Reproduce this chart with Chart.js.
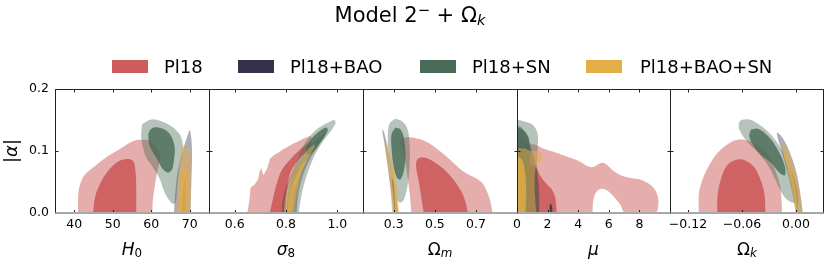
<!DOCTYPE html>
<html>
<head>
<meta charset="utf-8">
<script src="https://cdn.jsdelivr.net/npm/chart.js@4.4.0/dist/chart.umd.min.js"></script>
<style>
  body { margin: 0; background: #fff; }
  #wrap { position: relative; width: 830px; height: 263px; overflow: hidden; font-family: "DejaVu Sans", sans-serif; color: #000; }
  #wrap canvas { position: absolute; left: 0; top: 0; }
  .t { position: absolute; white-space: nowrap; line-height: 1; }
  .sb { font-size: 0.7em; position: relative; top: 0.22em; }
  .sp { font-size: 0.7em; position: relative; top: -0.45em; }
  .ax { top: 240.6px; font-size: 17px; transform: translateX(-50%); }
  .lg { top: 57.5px; font-size: 18px; }
  .patch { position: absolute; top: 59.5px; width: 36px; height: 13px; }
</style>
</head>
<body>
<div id="wrap">
  <canvas id="c0" width="830" height="263"></canvas>
  <canvas id="c1" width="830" height="263"></canvas>
  <canvas id="c2" width="830" height="263"></canvas>
  <canvas id="c3" width="830" height="263"></canvas>
  <canvas id="c4" width="830" height="263"></canvas>

  <div class="t" style="left:410px;top:4.9px;font-size:21px;transform:translateX(-50%)">Model 2<span class="sp">−</span> + Ω<span class="sb"><i>k</i></span></div>

  <div class="patch" style="left:112px;background:rgb(205,92,92)"></div>
  <div class="t lg" style="left:164px">Pl18</div>
  <div class="patch" style="left:238px;background:rgb(52,49,76)"></div>
  <div class="t lg" style="left:290px">Pl18+BAO</div>
  <div class="patch" style="left:420px;background:rgb(72,106,86)"></div>
  <div class="t lg" style="left:472px">Pl18+SN</div>
  <div class="patch" style="left:586px;background:rgb(228,174,70)"></div>
  <div class="t lg" style="left:640px">Pl18+BAO+SN</div>

  <div class="t" style="left:11px;top:151px;font-size:18px;transform:translate(-50%,-50%) rotate(-90deg)">|<i>α</i>|</div>
  <div class="t ax" style="left:132px"><i>H</i><span class="sb">0</span></div>
  <div class="t ax" style="left:286px"><i>σ</i><span class="sb">8</span></div>
  <div class="t ax" style="left:440px">Ω<span class="sb"><i>m</i></span></div>
  <div class="t ax" style="left:593.5px"><i>μ</i></div>
  <div class="t ax" style="left:747px">Ω<span class="sb"><i>k</i></span></div>
</div>
<script>
// shared y axis (|alpha|)
const yRange = [0, 0.2];
const yTicks = [0, 0.1, 0.2];
const yTickLabels = ['0.0', '0.1', '0.2'];

// H0 panel
const h0Range = [35, 75];
const h0Ticks = [40, 50, 60, 70];
const h0TickLabels = ['40', '50', '60', '70'];
const h0Pl18Outer = [[41.0, 0], [41.0, 0.025], [41.5, 0.046], [42.8, 0.062], [45.4, 0.076], [48.8, 0.092], [52.3, 0.105], [55.3, 0.116], [57.4, 0.118], [60.0, 0.115], [61.8, 0.102], [62.2, 0.085], [61.5, 0.065], [60.9, 0.042], [60.4, 0.02], [60.3, 0]];
const h0Pl18Inner = [[44.9, 0], [45.4, 0.025], [46.6, 0.046], [48.8, 0.068], [51.4, 0.083], [53.6, 0.087], [55.3, 0.084], [55.9, 0.068], [56.1, 0.041], [56.1, 0]];
const h0BaoOuter = [[65.9, 0], [66.2, 0.03], [66.9, 0.068], [68.2, 0.1], [69.4, 0.124], [70.0, 0.133], [70.4, 0.121], [70.6, 0.094], [70.4, 0.051], [70.2, 0]];
const h0BaoInner = [[68.0, 0], [68.2, 0.03], [68.6, 0.055], [68.9, 0.05], [68.9, 0.02], [68.8, 0]];
const h0SnOuter = [[57.6, 0.143], [60.0, 0.151], [62.6, 0.148], [65.2, 0.140], [67.4, 0.127], [68.2, 0.110], [68.1, 0.094], [67.4, 0.073], [66.8, 0.046], [66.6, 0.025], [66.3, 0.016], [65.5, 0.015], [64.5, 0.022], [63.3, 0.036], [62.2, 0.055], [60.5, 0.073], [58.7, 0.089], [57.9, 0.105], [57.4, 0.121], [57.6, 0.143]];
const h0SnInner = [[59.2, 0.127], [60.0, 0.136], [61.8, 0.138], [63.9, 0.133], [65.4, 0.121], [66.1, 0.105], [65.9, 0.086], [65.4, 0.070], [64.4, 0.065], [63.1, 0.070], [61.8, 0.084], [60.5, 0.097], [59.5, 0.110], [59.2, 0.127]];
const h0BaoSnOuter = [[66.5, 0], [66.8, 0.041], [67.4, 0.084], [67.8, 0.102], [68.7, 0.110], [70.0, 0.100], [70.4, 0.062], [70.2, 0]];
const h0BaoSnInner = [[67.4, 0], [67.6, 0.041], [68.2, 0.073], [69.1, 0.070], [69.3, 0.041], [69.2, 0]];

// sigma8 panel
const s8Range = [0.5, 1.1];
const s8Ticks = [0.6, 0.8, 1.0];
const s8TickLabels = ['0.6', '0.8', '1.0'];
const s8Pl18Outer = [[0.6495, 0], [0.657, 0.019], [0.6625, 0.041], [0.678, 0.046], [0.691, 0.054], [0.698, 0.068], [0.704, 0.072], [0.712, 0.061], [0.728, 0.073], [0.738, 0.088], [0.756, 0.094], [0.782, 0.101], [0.821, 0.110], [0.861, 0.1185], [0.893, 0.124], [0.902, 0.121], [0.874, 0.0997], [0.841, 0.078], [0.815, 0.0515], [0.798, 0.025], [0.793, 0]];
const s8Pl18Inner = [[0.737, 0], [0.75, 0.025], [0.763, 0.046], [0.782, 0.068], [0.815, 0.086], [0.854, 0.102], [0.887, 0.113], [0.9, 0.116], [0.887, 0.102], [0.848, 0.086], [0.815, 0.062], [0.802, 0.030], [0.798, 0]];
const s8BaoOuter = [[0.785, 0], [0.786, 0.017], [0.8, 0.041], [0.828, 0.068], [0.867, 0.094], [0.913, 0.116], [0.945, 0.127], [0.955, 0.128], [0.939, 0.116], [0.9, 0.092], [0.867, 0.062], [0.848, 0.030], [0.841, 0]];
const s8BaoInner = [[0.81, 0], [0.816, 0.025], [0.83, 0.045], [0.835, 0.04], [0.825, 0.02], [0.818, 0]];
const s8SnOuter = [[0.802, 0], [0.808, 0.030], [0.821, 0.057], [0.837, 0.078], [0.86, 0.102], [0.887, 0.121], [0.926, 0.137], [0.965, 0.146], [0.988, 0.150], [0.993, 0.145], [0.978, 0.134], [0.945, 0.116], [0.913, 0.094], [0.887, 0.068], [0.867, 0.041], [0.854, 0.014], [0.85, 0]];
const s8SnInner = [[0.876, 0.104], [0.9, 0.12], [0.93, 0.132], [0.958, 0.138], [0.962, 0.132], [0.935, 0.115], [0.905, 0.098], [0.885, 0.094], [0.876, 0.104]];
const s8BaoSnOuter = [[0.79, 0], [0.796, 0.025], [0.813, 0.052], [0.841, 0.078], [0.874, 0.097], [0.906, 0.110], [0.914, 0.108], [0.893, 0.094], [0.867, 0.073], [0.85, 0.046], [0.837, 0.019], [0.832, 0]];
const s8BaoSnInner = [[0.806, 0], [0.815, 0.030], [0.834, 0.054], [0.867, 0.081], [0.88, 0.084], [0.861, 0.068], [0.837, 0.041], [0.821, 0]];

// Omega_m panel
const omRange = [0.15, 0.9];
const omTicks = [0.3, 0.5, 0.7];
const omTickLabels = ['0.3', '0.5', '0.7'];
const omPl18Outer = [[0.386, 0], [0.378, 0.030], [0.365, 0.062], [0.349, 0.094], [0.332, 0.113], [0.34, 0.120], [0.373, 0.122], [0.413, 0.120], [0.47, 0.113], [0.535, 0.097], [0.6, 0.078], [0.648, 0.065], [0.689, 0.058], [0.729, 0.049], [0.753, 0.035], [0.77, 0.019], [0.781, 0]];
const omPl18Inner = [[0.446, 0], [0.434, 0.025], [0.421, 0.052], [0.409, 0.073], [0.413, 0.086], [0.438, 0.090], [0.478, 0.086], [0.535, 0.073], [0.583, 0.057], [0.624, 0.038], [0.648, 0.019], [0.661, 0]];
const omBaoOuter = [[0.297, 0], [0.288, 0.03], [0.273, 0.068], [0.258, 0.105], [0.243, 0.135], [0.252, 0.131], [0.27, 0.105], [0.292, 0.068], [0.312, 0.03], [0.322, 0]];
const omBaoInner = [[0.303, 0], [0.298, 0.03], [0.29, 0.055], [0.296, 0.055], [0.305, 0.03], [0.309, 0]];
const omSnOuter = [[0.305, 0.152], [0.34, 0.148], [0.365, 0.137], [0.376, 0.116], [0.378, 0.084], [0.37, 0.051], [0.353, 0.025], [0.337, 0.017], [0.321, 0.019], [0.308, 0.035], [0.292, 0.062], [0.276, 0.094], [0.271, 0.127], [0.279, 0.144], [0.305, 0.152]];
const omSnInner = [[0.308, 0.138], [0.332, 0.135], [0.349, 0.121], [0.357, 0.094], [0.349, 0.068], [0.332, 0.054], [0.316, 0.057], [0.3, 0.073], [0.289, 0.105], [0.289, 0.127], [0.308, 0.138]];
const omBaoSnOuter = [[0.292, 0], [0.283, 0.04], [0.268, 0.08], [0.255, 0.11], [0.262, 0.116], [0.279, 0.1], [0.3, 0.073], [0.316, 0.041], [0.326, 0]];
const omBaoSnInner = [[0.305, 0], [0.3, 0.041], [0.284, 0.073], [0.292, 0.073], [0.308, 0.041], [0.314, 0]];

// mu panel
const muRange = [0, 10];
const muTicks = [0, 2, 4, 6, 8];
const muTickLabels = ['0', '2', '4', '6', '8'];
const muPl18Outer = [[0, 0], [0, 0.112], [0.5, 0.113], [1.2, 0.110], [1.63, 0.105], [2.28, 0.0997], [3.15, 0.092], [4.02, 0.084], [4.78, 0.074], [5.1, 0.0756], [5.54, 0.081], [5.87, 0.078], [6.3, 0.068], [6.85, 0.060], [7.5, 0.056], [8.04, 0.054], [8.48, 0.049], [8.91, 0.041], [9.2, 0.027], [9.24, 0.014], [9.13, 0.002], [8.8, 0], [7.07, 0], [6.74, 0.014], [6.3, 0.027], [5.87, 0.0365], [5.5, 0.039], [5.22, 0.035], [5.0, 0.022], [4.93, 0]];
const muPl18Inner = [[0, 0], [0, 0.08], [0.6, 0.08], [1.2, 0.0756], [1.52, 0.060], [1.96, 0.046], [2.28, 0.038], [2.5, 0.025], [2.6, 0]];
const muBaoOuter = [[0, 0], [0, 0.14], [0.3, 0.138], [0.7, 0.12], [1.1, 0.09], [1.35, 0.06], [1.45, 0.03], [1.45, 0]];
const muBaoInner = [[0.3, 0], [0.3, 0.05], [0.45, 0.07], [0.6, 0.045], [0.55, 0]];
const muBaoIsland = [[2.15, 0], [2.13, 0.01], [2.2, 0.015], [2.3, 0.01], [2.3, 0]];
const muSnOuter = [[0, 0], [0, 0.148], [0.54, 0.147], [0.98, 0.143], [1.24, 0.135], [1.37, 0.124], [1.35, 0.105], [1.3, 0.08], [1.4, 0.04], [1.45, 0]];
const muSnInner = [[0, 0], [0, 0.135], [0.4, 0.134], [0.75, 0.122], [0.85, 0.1], [0.8, 0.05], [0.7, 0]];
const muBaoSnOuter = [[0, 0], [0, 0.102], [0.5, 0.104], [0.9, 0.1], [1.3, 0.1], [1.65, 0.094], [1.6, 0.085], [1.25, 0.075], [1.15, 0.05], [1.2, 0.02], [1.25, 0]];
const muBaoSnInner = [[0, 0], [0, 0.09], [0.35, 0.085], [0.55, 0.06], [0.6, 0.03], [0.55, 0]];

// Omega_k panel
const okRange = [-0.14, 0.03];
const okTicks = [-0.12, -0.06, 0.0];
const okTickLabels = ['\u22120.12', '\u22120.06', '0.00'];
const okPl18Outer = [[-0.108, 0], [-0.108, 0.030], [-0.105, 0.049], [-0.098, 0.073], [-0.087, 0.097], [-0.074, 0.113], [-0.063, 0.1185], [-0.052, 0.116], [-0.041, 0.108], [-0.031, 0.094], [-0.024, 0.073], [-0.018, 0.046], [-0.016, 0.019], [-0.0155, 0]];
const okPl18Inner = [[-0.0875, 0], [-0.087, 0.030], [-0.083, 0.057], [-0.076, 0.078], [-0.066, 0.086], [-0.057, 0.085], [-0.046, 0.073], [-0.039, 0.052], [-0.035, 0.030], [-0.034, 0]];
const okBaoOuter = [[0, 0], [-0.0037, 0.030], [-0.01, 0.068], [-0.0159, 0.0997], [-0.0203, 0.121], [-0.021, 0.130], [-0.0148, 0.121], [-0.0074, 0.0997], [0, 0.068], [0.0048, 0.030], [0.0074, 0]];
const okBaoInner = [[0.0015, 0], [-0.002, 0.035], [-0.006, 0.06], [-0.004, 0.062], [0.0005, 0.035], [0.0025, 0]];
const okSnOuter = [[-0.061, 0.150], [-0.052, 0.1507], [-0.041, 0.1426], [-0.028, 0.1265], [-0.017, 0.105], [-0.0074, 0.078], [0, 0.046], [0.0026, 0.025], [0, 0.0166], [-0.0074, 0.019], [-0.0148, 0.030], [-0.024, 0.057], [-0.033, 0.081], [-0.044, 0.0997], [-0.055, 0.116], [-0.063, 0.1346], [-0.0635, 0.145], [-0.061, 0.150]];
const okSnInner = [[-0.05, 0.1346], [-0.0425, 0.136], [-0.031, 0.124], [-0.0203, 0.102], [-0.0129, 0.078], [-0.0122, 0.061], [-0.0185, 0.065], [-0.0277, 0.081], [-0.039, 0.094], [-0.048, 0.110], [-0.052, 0.124], [-0.05, 0.1346]];
const okBaoSnOuter = [[0, 0], [-0.0037, 0.030], [-0.0092, 0.068], [-0.0148, 0.0997], [-0.0166, 0.113], [-0.0122, 0.110], [-0.0055, 0.089], [0.0011, 0.057], [0.0055, 0.025], [0.0074, 0]];
const okBaoSnInner = [[0.0011, 0], [-0.0037, 0.041], [-0.0092, 0.073], [-0.0141, 0.097], [-0.0129, 0.0997], [-0.0074, 0.078], [-0.0011, 0.046], [0.0026, 0]];

const RED = '205,92,92';
const NAVY = '51,48,79';
const GREEN = '72,106,86';
const GOLD = '228,174,70';

// panel boxes in page pixels
const panelEdges = [[55, 209], [209, 363], [363, 517], [517, 670], [670, 823]];

function layers(pl18, bao, sn, baoSn, extra) {
  // drawing order: first drawn at the bottom
  const list = [
    [pl18[0], RED, 0.5, pl18[2] || 0.35],
    [pl18[1], RED, 0.9, 0.35],
    [bao[0], NAVY, 0.4, 0.35],
    [bao[1], NAVY, 0.8, 0.35],
  ];
  (extra || []).forEach((e) => list.push(e));
  list.push(
    [sn[0], GREEN, 0.4, 0.35],
    [sn[1], GREEN, 0.8, 0.35],
    [baoSn[0], GOLD, 0.5, 0.35],
    [baoSn[1], GOLD, 0.8, 0.35]
  );
  return list.map(([pts, rgb, alpha, tension], i) => ({
    data: pts.map(([x, y]) => ({ x, y })),
    showLine: true,
    fill: 'shape',
    backgroundColor: `rgba(${rgb},${alpha})`,
    borderColor: 'rgba(0,0,0,0)',
    borderWidth: 0,
    pointRadius: 0,
    tension,
    order: 100 - i,
  }));
}

const panels = [
  { range: h0Range, ticks: h0Ticks, labels: h0TickLabels,
    sets: layers([h0Pl18Outer, h0Pl18Inner], [h0BaoOuter, h0BaoInner], [h0SnOuter, h0SnInner], [h0BaoSnOuter, h0BaoSnInner]) },
  { range: s8Range, ticks: s8Ticks, labels: s8TickLabels,
    sets: layers([s8Pl18Outer, s8Pl18Inner, 0.05], [s8BaoOuter, s8BaoInner], [s8SnOuter, s8SnInner], [s8BaoSnOuter, s8BaoSnInner]) },
  { range: omRange, ticks: omTicks, labels: omTickLabels,
    sets: layers([omPl18Outer, omPl18Inner], [omBaoOuter, omBaoInner], [omSnOuter, omSnInner], [omBaoSnOuter, omBaoSnInner]) },
  { range: muRange, ticks: muTicks, labels: muTickLabels,
    sets: layers([muPl18Outer, muPl18Inner], [muBaoOuter, muBaoInner], [muSnOuter, muSnInner], [muBaoSnOuter, muBaoSnInner], [[muBaoIsland, NAVY, 0.8, 0.3]]) },
  { range: okRange, ticks: okTicks, labels: okTickLabels,
    sets: layers([okPl18Outer, okPl18Inner], [okBaoOuter, okBaoInner], [okSnOuter, okSnInner], [okBaoSnOuter, okBaoSnInner]) },
];

// box + inward ticks on all four sides
const frame = {
  id: 'frame',
  afterDatasetsDraw(chart) {
    const { ctx, chartArea: a, scales: { x, y } } = chart;
    const l = Math.round(a.left) + 0.5;
    const r = Math.round(a.right) + 0.5;
    const t = Math.round(a.top) + 0.5;
    const b = Math.round(a.bottom);
    ctx.save();
    ctx.strokeStyle = '#222';
    ctx.lineWidth = 1;
    ctx.beginPath();
    x.ticks.forEach((tk) => {
      const p = Math.round(x.getPixelForValue(tk.value)) + 0.5;
      ctx.moveTo(p, t); ctx.lineTo(p, t + 3);
      ctx.moveTo(p, b); ctx.lineTo(p, b - 3);
    });
    y.ticks.forEach((tk) => {
      const p = Math.round(y.getPixelForValue(tk.value)) + 0.5;
      ctx.moveTo(l, p); ctx.lineTo(l + 3, p);
      ctx.moveTo(r, p); ctx.lineTo(r - 3, p);
    });
    ctx.stroke();
    ctx.beginPath();
    ctx.moveTo(l, b);
    ctx.lineTo(l, t);
    ctx.lineTo(r, t);
    ctx.lineTo(r, b);
    ctx.stroke();
    ctx.strokeStyle = '#a8a8a8';
    ctx.lineWidth = 2;
    ctx.beginPath();
    ctx.moveTo(l, b);
    ctx.lineTo(r, b);
    ctx.stroke();
    ctx.restore();
  },
};

const tickFont = { family: 'DejaVu Sans', size: 12.5 };

panels.forEach((p, i) => {
  const [left, right] = panelEdges[i];
  const yW = i === 0 ? 55 : 20;
  new Chart(document.getElementById('c' + i), {
    type: 'scatter',
    data: { datasets: p.sets },
    plugins: [frame],
    options: {
      responsive: false,
      animation: false,
      devicePixelRatio: 1,
      events: [],
      layout: { padding: { left: left - yW, right: 830 - right, top: 89, bottom: 0 } },
      plugins: { legend: { display: false }, tooltip: { enabled: false } },
      scales: {
        x: {
          type: 'linear',
          min: p.range[0],
          max: p.range[1],
          afterBuildTicks: (s) => { s.ticks = p.ticks.map((v) => ({ value: v })); },
          afterFit: (s) => { s.height = 50; },
          grid: { display: false, drawTicks: false },
          border: { display: false },
          ticks: { autoSkip: false, maxRotation: 0, padding: 4, color: '#000', font: tickFont,
            callback: (v, k) => p.labels[k] },
        },
        y: {
          min: yRange[0],
          max: yRange[1],
          afterBuildTicks: (s) => { s.ticks = yTicks.map((v) => ({ value: v })); },
          afterFit: (s) => { s.width = yW; },
          grid: { display: false, drawTicks: false },
          border: { display: false },
          ticks: { display: i === 0, padding: 6, color: '#000', font: tickFont,
            callback: (v, k) => yTickLabels[k] },
        },
      },
    },
  });
});
</script>
</body>
</html>
